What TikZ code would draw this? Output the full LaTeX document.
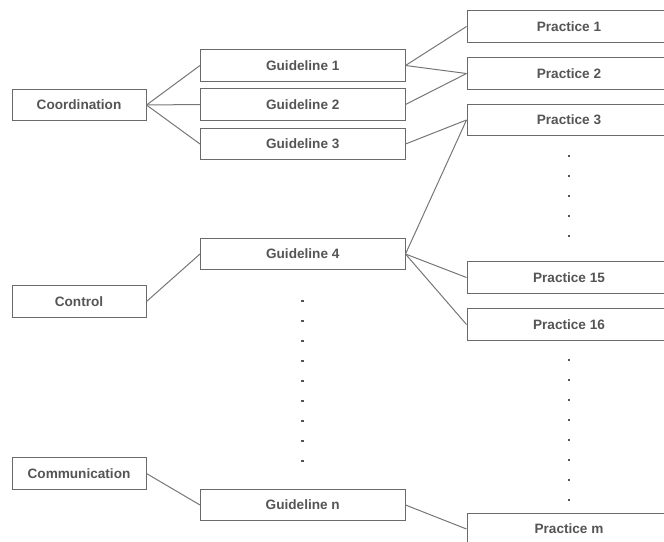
\documentclass[tikz,border=0pt]{standalone}
\usepackage{fontspec}
\setmainfont{Liberation Sans}
\usepackage{tikz}
\usetikzlibrary{positioning}
\definecolor{boxLine}{HTML}{6A6A6A}
\definecolor{linkLine}{HTML}{767676}
\definecolor{labelInk}{HTML}{555555}

\begin{document}
\begin{tikzpicture}[x=1pt,y=-1pt,line width=1pt,
  font=\fontsize{13.6}{16}\selectfont\bfseries,
  box/.style={draw=boxLine,fill=white,text=labelInk,minimum height=31.5pt,inner sep=0pt},
  area/.style={box,minimum width=134pt},
  guide/.style={box,minimum width=204.5pt},
  prac/.style={box,minimum width=204pt},
  link/.style={draw=linkLine},
  dot/.style={rectangle,fill=labelInk,inner sep=0pt,minimum size=2.3pt}]
\useasboundingbox (0,0) rectangle (664,541);
\clip (0,0) rectangle (664,541);
% areas
\node[area] (coord) at (79,105) {Coordination};
\node[area] (ctrl) at (79,301.5) {Control};
\node[area] (comm) at (79,473.5) {Communication};
% guidelines
\node[guide] (g1) at (302.75,65.5) {Guideline 1};
\node[guide] (g2) at (302.75,104.5) {Guideline 2};
\node[guide] (g3) at (302.75,144) {Guideline 3};
\node[guide] (g4) at (302.75,254) {Guideline 4};
\node[guide] (gn) at (302.75,505) {Guideline n};
% practices
\node[prac] (p1) at (569,26.5) {Practice 1};
\node[prac] (p2) at (569,73.5) {Practice 2};
\node[prac] (p3) at (569,120) {Practice 3};
\node[prac] (p15) at (569,277.5) {Practice 15};
\node[prac] (p16) at (569,324.5) {Practice 16};
\node[prac] (pm) at (569,529) {Practice m};
% links
\draw[link] (coord.east) -- (g1.west);
\draw[link] (coord.east) -- (g2.west);
\draw[link] (coord.east) -- (g3.west);
\draw[link] (ctrl.east) -- (g4.west);
\draw[link] (comm.east) -- (gn.west);
\draw[link] (g1.east) -- (p1.west);
\draw[link] (g1.east) -- (p2.west);
\draw[link] (g2.east) -- (p2.west);
\draw[link] (g3.east) -- (p3.west);
\draw[link] (g4.east) -- (p3.west);
\draw[link] (g4.east) -- (p15.west);
\draw[link] (g4.east) -- (p16.west);
\draw[link] (gn.east) -- (pm.west);
% ellipsis dots
\foreach \y in {301,321,...,461} \node[dot] (gd\y) at (302.5,\y) {};
\foreach \y in {156,176,...,236} \node[dot] (pa\y) at (569,\y) {};
\foreach \y in {360,380,...,500} \node[dot] (pb\y) at (569,\y) {};
\end{tikzpicture}
\end{document}
